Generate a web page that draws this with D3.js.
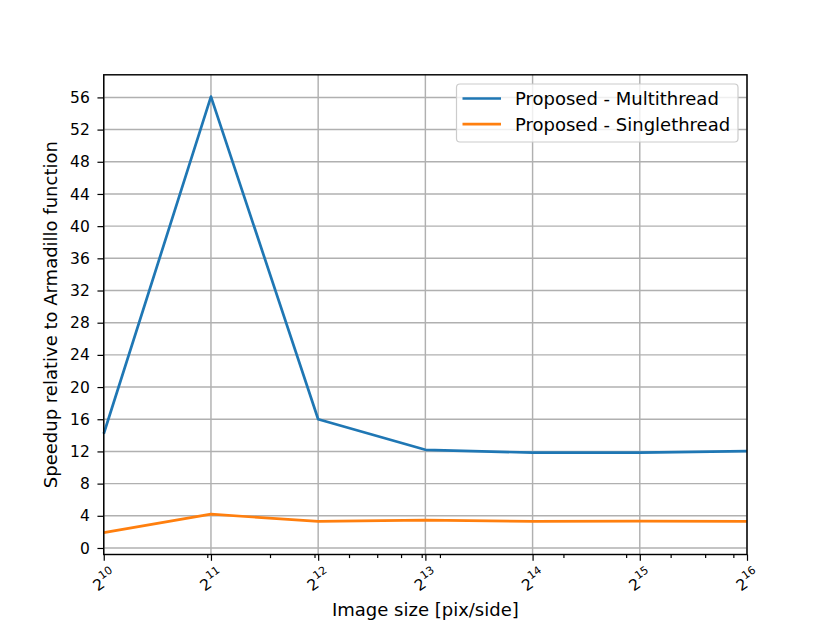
<!DOCTYPE html>
<html>
<head>
<meta charset="utf-8">
<script src="https://cdn.jsdelivr.net/npm/d3@7"></script>
<style>
  body { margin: 0; background: #fff; }
  svg text { font-family: "DejaVu Sans", sans-serif; fill: #000; }
</style>
</head>
<body>
<script>
// chart data
var exponents = [10, 11, 12, 13, 14, 15, 16];
var multiThread = [14.2, 56.1, 16.0, 12.2, 11.85, 11.85, 12.05];
var singleThread = [1.9, 4.2, 3.3, 3.45, 3.3, 3.35, 3.3];
var seriesNames = ["Proposed - Multithread", "Proposed - Singlethread"];
var seriesColors = ["#1f77b4", "#ff7f0e"];
var yTicks = [0, 4, 8, 12, 16, 20, 24, 28, 32, 36, 40, 44, 48, 52, 56];

var W = 830, H = 623;
var margin = {left: 103.75, right: 83, top: 74.8, bottom: 68.5};
var pw = W - margin.left - margin.right,
    ph = H - margin.top - margin.bottom;

var svg = d3.select("body").append("svg")
    .attr("width", W).attr("height", H);

var sizes = exponents.map(function(e) { return Math.pow(2, e); });

var x = d3.scaleLog().base(2)
    .domain([sizes[0], sizes[sizes.length - 1]])
    .range([margin.left, margin.left + pw]);

// autoscale like matplotlib: 5% margins
var all = multiThread.concat(singleThread);
var lo = d3.min(all), hi = d3.max(all), pad = (hi - lo) * 0.05;
var y = d3.scaleLinear()
    .domain([lo - pad, hi + pad])
    .range([margin.top + ph, margin.top]);

// minor ticks at d*10^k
var minorTicks = [];
[1000, 10000].forEach(function(p) {
  for (var d = 2; d <= 9; d++) {
    var v = d * p;
    if (v > x.domain()[0] && v < x.domain()[1]) minorTicks.push(v);
  }
});

var grid = svg.append("g");
grid.selectAll("line.gx").data(sizes).enter().append("line")
    .attr("x1", function(d) { return x(d); }).attr("x2", function(d) { return x(d); })
    .attr("y1", margin.top).attr("y2", margin.top + ph)
    .style("stroke", "#b0b0b0").style("stroke-width", 1.44);
grid.selectAll("line.gy").data(yTicks).enter().append("line")
    .attr("y1", function(d) { return y(d); }).attr("y2", function(d) { return y(d); })
    .attr("x1", margin.left).attr("x2", margin.left + pw)
    .style("stroke", "#b0b0b0").style("stroke-width", 1.44);

// lines
var line = d3.line()
    .x(function(d, i) { return x(sizes[i]); })
    .y(function(d) { return y(d); });

[multiThread, singleThread].forEach(function(s, i) {
  svg.append("path")
      .attr("d", line(s))
      .style("fill", "none")
      .style("stroke", seriesColors[i])
      .style("stroke-width", 2.7)
      .style("stroke-linejoin", "round");
});

// axes (ticks only, labels drawn by hand)
var yAxis = svg.append("g")
    .attr("transform", "translate(" + margin.left + ",0)")
    .call(d3.axisLeft(y).tickValues(yTicks).tickSize(6.3).tickFormat(""));
var xAxis = svg.append("g")
    .attr("transform", "translate(0," + (margin.top + ph) + ")")
    .call(d3.axisBottom(x).tickValues(sizes).tickSize(6.3).tickFormat(""));
var xMinor = svg.append("g")
    .attr("transform", "translate(0," + (margin.top + ph) + ")")
    .call(d3.axisBottom(x).tickValues(minorTicks).tickSize(3.6).tickFormat(""));

[yAxis, xAxis, xMinor].forEach(function(a) {
  a.select(".domain").remove();
  a.selectAll(".tick line").style("stroke", "#000").style("stroke-width", 1.2);
});

// y tick labels
svg.append("g").selectAll("text").data(yTicks).enter().append("text")
    .attr("x", margin.left - 14)
    .attr("y", function(d) { return y(d) + 5.6; })
    .attr("text-anchor", "end")
    .attr("font-size", "15.5px")
    .style("font-size", "15.5px")
    .text(function(d) { return d; });

// frame
svg.append("rect")
    .attr("x", margin.left).attr("y", margin.top)
    .attr("width", pw).attr("height", ph)
    .style("fill", "none").style("stroke", "#000").style("stroke-width", 1.44);

// rotated 2^n labels: base and exponent as separate texts
var labelTop = margin.top + ph + 9;
exponents.forEach(function(e, i) {
  var g = svg.append("g");
  var inner = g.append("g");
  var base = inner.append("text")
      .attr("x", 0).attr("y", 0)
      .attr("font-size", "15.5px").style("font-size", "15.5px")
      .text("2");
  var bw = base.node().getComputedTextLength();
  inner.append("text")
      .attr("x", bw + 0.5).attr("y", -7.5)
      .attr("font-size", "11px").style("font-size", "11px")
      .text(e);
  var b = inner.node().getBBox();
  var a = 35 * Math.PI / 180;
  var rh = b.width * Math.sin(a) + b.height * Math.cos(a);
  var cx = b.x + b.width / 2, cy = b.y + b.height / 2;
  g.attr("transform", "translate(" + x(sizes[i]) + "," + (labelTop + rh / 2) +
         ") rotate(-35)");
  inner.attr("transform", "translate(" + (-cx) + "," + (-cy) + ")");
});

// axis labels
svg.append("text")
    .attr("x", margin.left + pw / 2).attr("y", 616)
    .attr("text-anchor", "middle")
    .style("font-size", "18px")
    .text("Image size [pix/side]");
svg.append("text")
    .attr("transform", "translate(57," + (margin.top + ph / 2) + ") rotate(-90)")
    .attr("text-anchor", "middle")
    .style("font-size", "18px")
    .text("Speedup relative to Armadillo function");

// legend
var lx = 456.5, ly = 84, lw = 281.5, lh = 58;
svg.append("rect")
    .attr("x", lx).attr("y", ly).attr("width", lw).attr("height", lh)
    .attr("rx", 3.5)
    .style("fill", "#fff").style("fill-opacity", 0.8)
    .style("stroke", "#cccccc").style("stroke-width", 1.2);
seriesNames.forEach(function(n, i) {
  var yy = ly + 14.5 + i * 25.7;
  svg.append("line")
      .attr("x1", lx + 6).attr("x2", lx + 44.5)
      .attr("y1", yy).attr("y2", yy)
      .style("stroke", seriesColors[i]).style("stroke-width", 2.7);
  svg.append("text")
      .attr("x", lx + 58.5).attr("y", yy + 6.5)
      .style("font-size", "18px")
      .text(n);
});
</script>
</body>
</html>
